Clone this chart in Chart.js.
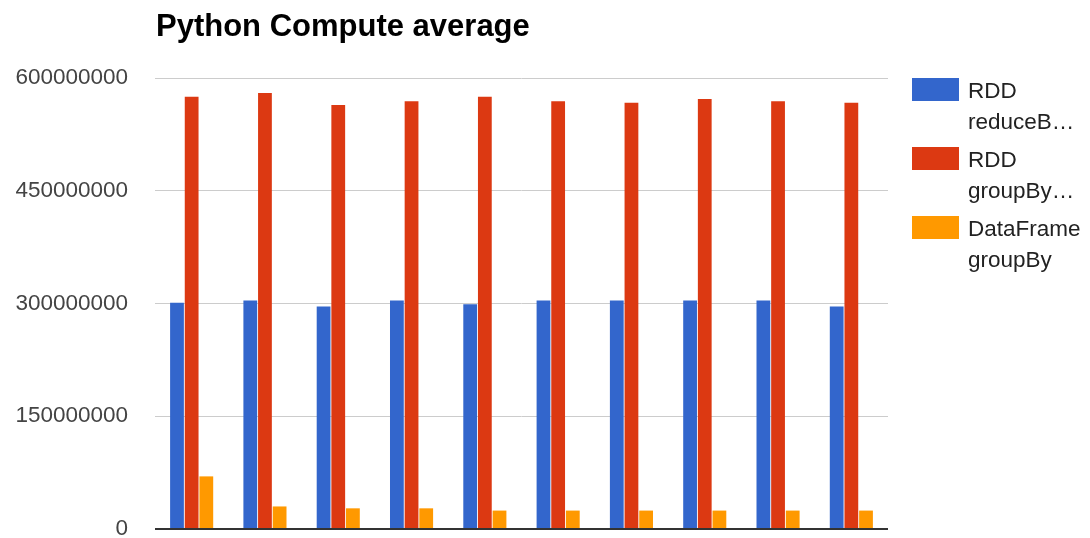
<!DOCTYPE html>
<html>
<head>
<meta charset="utf-8">
<script src="https://cdn.jsdelivr.net/npm/chart.js@4"></script>
<style>
    html, body { margin: 0; padding: 0; background: #fff; }
    #wrap { position: relative; width: 1090px; height: 538px; font-family: "Liberation Sans", Arial, sans-serif; }
    #title { position: absolute; left: 156px; top: 8px; font-size: 31px; font-weight: bold; color: #000; line-height: 36px; white-space: nowrap; }
    #chart { position: absolute; left: 0; top: 0; }
    #legend { position: absolute; left: 912px; top: 78px; }
    .item { position: relative; height: 69px; }
    .box { position: absolute; left: 0; top: 0; width: 47px; height: 23px; }
    .txt { position: absolute; left: 56px; top: -3px; font-size: 22.5px; line-height: 31px; color: #222; white-space: nowrap; }
</style>
</head>
<body>
<div id="wrap">
    <canvas id="chart" width="1090" height="538"></canvas>
    <div id="title">Python Compute average</div>
    <div id="legend"></div>
</div>
<script>
// Datos (10 ejecuciones, sin etiquetas en el eje X)
const runs = ['1', '2', '3', '4', '5', '6', '7', '8', '9', '10'];
const seriesNames = ['RDD reduceB\u2026', 'RDD groupBy\u2026', 'DataFrame groupBy'];
const seriesColors = ['#3366cc', '#dc3912', '#ff9900'];
const rddReduceBy = [301e6, 304e6, 296e6, 304e6, 299e6, 304e6, 304e6, 304e6, 304e6, 296e6];
const rddGroupBy = [575e6, 580e6, 564e6, 569e6, 575e6, 569e6, 567e6, 572e6, 569e6, 567e6];
const dfGroupBy = [70e6, 30e6, 27.5e6, 27.5e6, 24.5e6, 24.5e6, 24.5e6, 24.5e6, 24.5e6, 24.5e6];
const yTicks = [0, 150000000, 300000000, 450000000, 600000000];

const seriesValues = [rddReduceBy, rddGroupBy, dfGroupBy];

const ctx = document.getElementById('chart').getContext('2d');
new Chart(ctx, {
    type: 'bar',
    data: {
        labels: runs,
        datasets: seriesValues.map((vals, i) => ({
            label: seriesNames[i],
            data: vals,
            backgroundColor: seriesColors[i],
            borderWidth: 0,
            categoryPercentage: 0.6,
            barPercentage: 0.94
        }))
    },
    options: {
        responsive: false,
        animation: false,
        layout: { padding: { top: 78, bottom: 9, right: 202, left: 0 } },
        plugins: {
            legend: { display: false },
            title: { display: false },
            tooltip: { enabled: false }
        },
        scales: {
            x: { display: false },
            y: {
                min: yTicks[0],
                max: yTicks[yTicks.length - 1],
                afterBuildTicks: scale => { scale.ticks = yTicks.map(v => ({ value: v })); },
                afterFit: scale => {
                    // ancho fijo del eje y sin reservar espacio extra arriba/abajo
                    scale.width = 155;
                    scale.paddingTop = 0;
                    scale.paddingBottom = 0;
                },
                border: { display: false },
                grid: {
                    drawTicks: false,
                    color: c => c.tick && c.tick.value === 0 ? '#333' : '#cccccc',
                    lineWidth: c => c.tick && c.tick.value === 0 ? 2 : 1
                },
                ticks: {
                    padding: 27,
                    color: '#444',
                    font: { family: '"Liberation Sans", Arial, sans-serif', size: 22.5 },
                    callback: v => String(v)
                }
            }
        }
    }
});

// Leyenda en HTML (texto en dos líneas como en el original)
const legend = document.getElementById('legend');
seriesNames.forEach((name, i) => {
    const item = document.createElement('div');
    item.className = 'item';
    const box = document.createElement('div');
    box.className = 'box';
    box.style.background = seriesColors[i];
    const txt = document.createElement('div');
    txt.className = 'txt';
    const sp = name.indexOf(' ');
    txt.innerHTML = name.slice(0, sp) + '<br>' + name.slice(sp + 1);
    item.appendChild(box);
    item.appendChild(txt);
    legend.appendChild(item);
});
</script>
</body>
</html>
